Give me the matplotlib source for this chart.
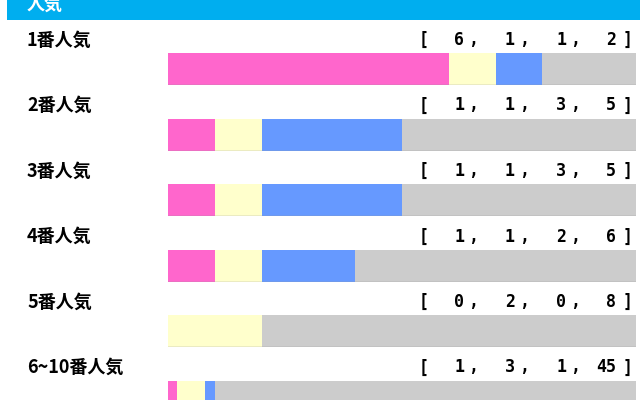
import matplotlib
matplotlib.use('Agg')
import matplotlib.pyplot as plt

plt.rcParams['font.family'] = ['Noto Sans CJK JP', 'DejaVu Sans']

# データ
title = '人気'
labels = ['1番人気', '2番人気', '3番人気', '4番人気', '5番人気', '6~10番人気']
first = [6, 1, 1, 1, 0, 1]
second = [1, 1, 1, 1, 2, 3]
third = [1, 3, 3, 2, 0, 1]
other = [2, 5, 5, 6, 8, 45]
colors = ['#ff66cc', '#ffffcc', '#6699ff', '#cccccc']

W, H = 640, 400
fig = plt.figure(figsize=(6.4, 4.0), dpi=100)
ax = fig.add_axes([0, 0, 1, 1])
ax.set_xlim(0, W)
ax.set_ylim(H, 0)
ax.axis('off')

# ヘッダー
ax.add_patch(plt.Rectangle((7, -5), W, 25, color='#00aeef', lw=0))
ax.text(27, 4, title, color='white', fontsize=13, fontweight='bold', va='center')

row_h = 65.5
bar_x0, bar_x1 = 168, 636
for i, lab in enumerate(labels):
    top = 53 + row_h * i
    ax.text(27, top - 13, lab, fontsize=13, fontweight='bold', va='center')

    vals = [first[i], second[i], third[i], other[i]]
    # 数字 [ a, b, c, d]
    ax.text(424, top - 13, '[', fontsize=12, fontweight='bold', va='center', ha='center',
            family='DejaVu Sans Mono')
    ax.text(628, top - 13, ']', fontsize=12, fontweight='bold', va='center', ha='center',
            family='DejaVu Sans Mono')
    for j, (xr, v) in enumerate(zip([464, 515, 566, 616], vals)):
        ax.text(xr, top - 13, str(v), fontsize=12, fontweight='bold', va='center', ha='right',
                family='DejaVu Sans Mono')
        if j < 3:
            ax.text(xr + 9, top - 13, ',', fontsize=12, fontweight='bold', va='center', ha='center',
                    family='DejaVu Sans Mono')

    # 棒グラフ
    bax = fig.add_axes([bar_x0 / W, 1 - (top + 32) / H, (bar_x1 - bar_x0) / W, 32 / H])
    total = sum(vals)
    left = 0
    for v, c in zip(vals, colors):
        bax.barh(0, v, left=left, height=1, color=c, lw=0)
        left += v
    bax.set_xlim(0, total)
    bax.set_ylim(-0.5, 0.5)
    bax.axis('off')
    bax.axhline(-0.5, color='#999999', lw=1)

fig.savefig('out.png', dpi=100)
